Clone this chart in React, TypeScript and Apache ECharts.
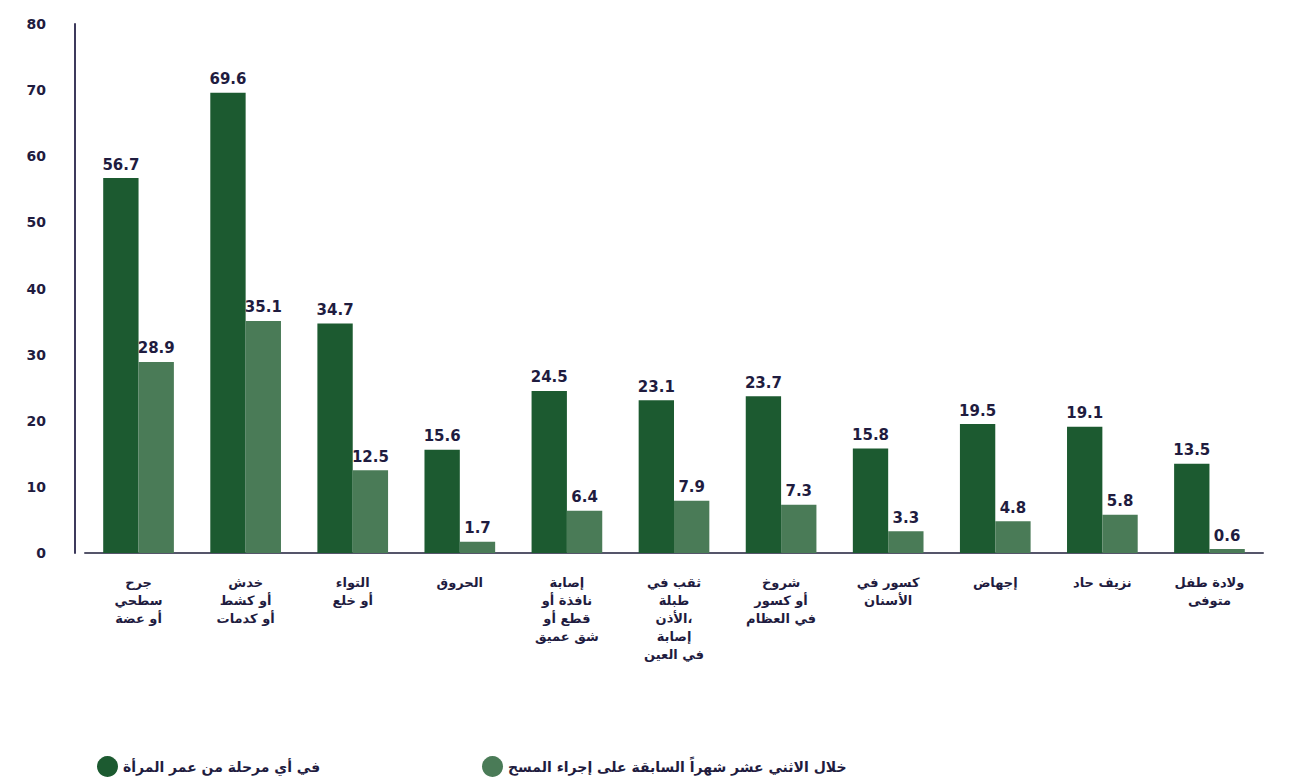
import React, { useEffect, useRef } from "react";
import * as echarts from "echarts";

const categories = [
  "جرح\nسطحي\nأو عضة",
  "خدش\nأو كشط\nأو كدمات",
  "التواء\nأو خلع",
  "الحروق",
  "إصابة\nنافذة أو\nقطع أو\nشق عميق",
  "ثقب في\nطبلة\nالأذن،\nإصابة\nفي العين",
  "شروخ\nأو كسور\nفي العظام",
  "كسور في\nالأسنان",
  "إجهاض",
  "نزيف حاد",
  "ولادة طفل\nمتوفى",
];
const lifetimeValues = [56.7, 69.6, 34.7, 15.6, 24.5, 23.1, 23.7, 15.8, 19.5, 19.1, 13.5];
const last12Values = [28.9, 35.1, 12.5, 1.7, 6.4, 7.9, 7.3, 3.3, 4.8, 5.8, 0.6];
const seriesNames = [
  "في أي مرحلة من عمر المرأة",
  "خلال الاثني عشر شهراً السابقة على إجراء المسح",
];
const yTicks = { min: 0, max: 80, interval: 10 };

const FONT = "'DejaVu Sans', sans-serif";
const INK = "#1f1c3f";

export default function App() {
  const ref = useRef<HTMLDivElement>(null);
  useEffect(() => {
    document.body.style.margin = "0";
    if (!ref.current) return;
    const chart = echarts.init(ref.current, undefined, { renderer: "svg" });
    const labelStyle = {
      show: true,
      position: "top",
      distance: 6,
      fontFamily: FONT,
      fontWeight: "bold",
      fontSize: 15,
      color: INK,
    };
    const legendText = { fontFamily: FONT, fontWeight: "bold", fontSize: 14, color: INK };
    chart.setOption({
      animation: false,
      backgroundColor: "#ffffff",
      grid: { left: 85, right: 28, top: 24, bottom: 225, containLabel: false },
      legend: [
        {
          data: [seriesNames[0]],
          left: 92,
          top: 751,
          icon: "circle",
          itemWidth: 21,
          itemHeight: 21,
          textStyle: legendText,
        },
        {
          data: [seriesNames[1]],
          left: 477,
          top: 751,
          icon: "circle",
          itemWidth: 21,
          itemHeight: 21,
          textStyle: legendText,
        },
      ],
      xAxis: {
        type: "category",
        data: categories,
        axisLine: { show: true, lineStyle: { color: "#55556a", width: 2 } },
        axisTick: { show: false },
        axisLabel: {
          interval: 0,
          margin: 20,
          fontFamily: FONT,
          fontWeight: "bold",
          fontSize: 13,
          lineHeight: 18,
          color: INK,
          align: "center",
        },
      },
      yAxis: {
        type: "value",
        min: yTicks.min,
        max: yTicks.max,
        interval: yTicks.interval,
        offset: 10,
        splitLine: { show: false },
        axisTick: { show: false },
        axisLine: { show: true, lineStyle: { color: "#3d3a5c", width: 2 } },
        axisLabel: {
          margin: 29,
          fontFamily: FONT,
          fontWeight: "bold",
          fontSize: 14,
          color: INK,
        },
      },
      series: [
        {
          name: seriesNames[0],
          type: "bar",
          data: lifetimeValues,
          barGap: "0%",
          barCategoryGap: "34%",
          itemStyle: { color: "#1c5a30" },
          label: labelStyle,
        },
        {
          name: seriesNames[1],
          type: "bar",
          data: last12Values,
          itemStyle: { color: "#4a7b57" },
          label: labelStyle,
        },
      ],
    });
    return () => chart.dispose();
  }, []);
  return <div ref={ref} style={{ width: 1291, height: 778 }} />;
}
